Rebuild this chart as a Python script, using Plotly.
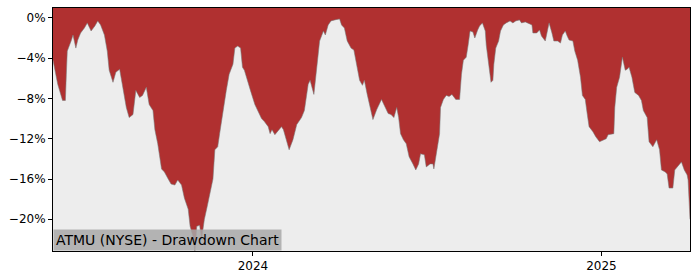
import plotly.graph_objects as go

dates = [
    "2023-06-05", "2023-06-10", "2023-06-15", "2023-06-18", "2023-06-19", "2023-06-20", "2023-06-24",
    "2023-06-26", "2023-06-29", "2023-07-01", "2023-07-04", "2023-07-08", "2023-07-11", "2023-07-15",
    "2023-07-19", "2023-07-22", "2023-07-25", "2023-07-29", "2023-08-01", "2023-08-03", "2023-08-07",
    "2023-08-10", "2023-08-14", "2023-08-17", "2023-08-21", "2023-08-24", "2023-08-28",
    "2023-08-31", "2023-09-04", "2023-09-07", "2023-09-11", "2023-09-14", "2023-09-18", "2023-09-20",
    "2023-09-23", "2023-09-27", "2023-09-30", "2023-10-04", "2023-10-07", "2023-10-11", "2023-10-14",
    "2023-10-18", "2023-10-21", "2023-10-25", "2023-10-27", "2023-10-30", "2023-11-01", "2023-11-03",
    "2023-11-06", "2023-11-08", "2023-11-11", "2023-11-14", "2023-11-16", "2023-11-20",
    "2023-11-22", "2023-11-25", "2023-11-27", "2023-11-30", "2023-12-04", "2023-12-07", "2023-12-11",
    "2023-12-13", "2023-12-16", "2023-12-19", "2023-12-21", "2023-12-23", "2023-12-27", "2023-12-30",
    "2024-01-03", "2024-01-06", "2024-01-10", "2024-01-13", "2024-01-17", "2024-01-19", "2024-01-21",
    "2024-01-24", "2024-01-27", "2024-01-31", "2024-02-02", "2024-02-05", "2024-02-08", "2024-02-12",
    "2024-02-16", "2024-02-21", "2024-02-24", "2024-02-28", "2024-03-01", "2024-03-05", "2024-03-08",
    "2024-03-11", "2024-03-15", "2024-03-17", "2024-03-20", "2024-03-23", "2024-03-27", "2024-04-01",
    "2024-04-03", "2024-04-06", "2024-04-09", "2024-04-13", "2024-04-16", "2024-04-19", "2024-04-22",
    "2024-04-25", "2024-04-27", "2024-04-30", "2024-05-03", "2024-05-06",
    "2024-05-10", "2024-05-13", "2024-05-15", "2024-05-18", "2024-05-22", "2024-05-25", "2024-05-28",
    "2024-05-31", "2024-06-02", "2024-06-04", "2024-06-07", "2024-06-10", "2024-06-13", "2024-06-17",
    "2024-06-20", "2024-06-23", "2024-06-25", "2024-06-29", "2024-07-01", "2024-07-05", "2024-07-08",
    "2024-07-09", "2024-07-12", "2024-07-15", "2024-07-16", "2024-07-19", "2024-07-22", "2024-07-25",
    "2024-07-28", "2024-07-29",
    "2024-08-01", "2024-08-05", "2024-08-07", "2024-08-09", "2024-08-12", "2024-08-14", "2024-08-16",
    "2024-08-19", "2024-08-21", "2024-08-24", "2024-08-26", "2024-08-29", "2024-09-01", "2024-09-02",
    "2024-09-05", "2024-09-07", "2024-09-09", "2024-09-10", "2024-09-12", "2024-09-15", "2024-09-17",
    "2024-09-20", "2024-09-23", "2024-09-27", "2024-09-30", "2024-10-03", "2024-10-07", "2024-10-09",
    "2024-10-13", "2024-10-16", "2024-10-20", "2024-10-21",
    "2024-10-25", "2024-10-28", "2024-10-30", "2024-11-03", "2024-11-05", "2024-11-07", "2024-11-10",
    "2024-11-12", "2024-11-16", "2024-11-19", "2024-11-21", "2024-11-24", "2024-11-26", "2024-11-28",
    "2024-12-02", "2024-12-04", "2024-12-07", "2024-12-10", "2024-12-12", "2024-12-15", "2024-12-17",
    "2024-12-19", "2024-12-23", "2024-12-26", "2024-12-30", "2025-01-02", "2025-01-06", "2025-01-08",
    "2025-01-12", "2025-01-14",
    "2025-01-15", "2025-01-17", "2025-01-20", "2025-01-22", "2025-01-23", "2025-01-26", "2025-01-28",
    "2025-01-30", "2025-02-02", "2025-02-05", "2025-02-09", "2025-02-12", "2025-02-14", "2025-02-18",
    "2025-02-20", "2025-02-24", "2025-02-26", "2025-02-28", "2025-03-03", "2025-03-05", "2025-03-09",
    "2025-03-11", "2025-03-13", "2025-03-17", "2025-03-19", "2025-03-23", "2025-03-26", "2025-03-29",
    "2025-04-01", "2025-04-02", "2025-04-04",
]

drawdown_pct = [
    -4.2, -6.6, -8.2, -8.2, -5.6, -3.3, -2.3,
    -1.7, -3.0, -2.2, -1.5, -1.0, -0.5, -1.3,
    -0.8, -0.3, -0.7, -1.7, -3.3, -5.2, -6.4,
    -5.4, -5.1, -6.9, -8.9, -9.9, -9.6,
    -7.2, -7.9, -7.7, -6.9, -8.6, -9.2, -11.1,
    -12.5, -15.0, -15.3, -16.0, -16.5, -16.6, -16.1,
    -16.6, -17.9, -19.0, -20.7, -21.7, -23.2, -20.7,
    -20.6, -22.0, -20.0, -18.7, -17.7, -16.0,
    -13.1, -12.8, -11.5, -9.5, -7.2, -5.6, -4.6,
    -3.0, -2.8, -3.0, -4.9, -5.2, -6.6, -7.4,
    -8.6, -9.2, -10.0, -10.3, -10.8, -11.5, -11.1,
    -11.6, -11.3, -10.8, -11.1, -12.1, -13.1, -12.1,
    -10.6, -9.9, -9.2, -6.6, -6.2, -7.6, -5.2,
    -2.3, -1.3, -1.7, -0.7, -0.3, -0.2, -0.1,
    -0.7, -1.0, -2.3, -3.0, -3.2, -4.9, -6.2,
    -6.7, -6.2, -7.6, -8.9, -10.1,
    -9.1, -8.4, -8.1, -8.7, -9.5, -9.6, -9.9,
    -8.9, -9.9, -11.5, -12.1, -12.5, -13.8, -14.5,
    -15.1, -14.5, -13.5, -13.6, -14.8, -14.5, -14.5,
    -15.0, -13.1, -11.5, -8.9, -8.1, -7.7, -7.8,
    -7.6, -7.7,
    -8.1, -8.1, -5.6, -4.2, -3.9, -2.7, -1.3,
    -1.4, -2.0, -1.2, -0.8, -0.5, -1.3, -2.7,
    -4.9, -6.4, -6.2, -4.6, -3.0, -2.3, -1.3,
    -0.7, -0.5, -0.3, -0.5, -0.3, -0.2, -0.5,
    -0.4, -0.5, -0.7, -1.5,
    -1.5, -1.2, -1.8, -2.3, -1.3, -0.5, -1.5,
    -2.3, -2.3, -2.5, -1.7, -1.3, -1.8, -2.2,
    -2.3, -3.3, -4.2, -5.9, -7.7, -8.1, -9.5,
    -10.8, -11.3, -11.8, -12.3, -12.2, -12.0, -11.6,
    -11.5, -11.5,
    -8.9, -6.9, -5.9, -4.6, -3.9, -5.2, -5.1,
    -4.9, -5.9, -7.4, -7.7, -8.2, -9.2, -9.9,
    -12.3, -12.8, -12.5, -12.1, -13.1, -15.1, -15.3,
    -15.5, -16.9, -16.9, -15.1, -14.6, -14.3, -15.1,
    -15.6, -16.1, -20.0,
]

y_tick_vals = [0, -4, -8, -12, -16, -20]
y_tick_text = ["0%", "\u22124%", "\u22128%", "\u221212%", "\u221216%", "\u221220%"]
x_tick_vals = ["2024-01-01", "2025-01-01"]
x_tick_text = ["2024", "2025"]
title_text = "ATMU (NYSE) - Drawdown Chart"

y_range = [-23.15, 0.98]
x_range = ["2023-06-05", "2025-04-04"]

fig = go.Figure()
# upper boundary of the red region: the top edge of the axes
fig.add_trace(go.Scatter(
    x=[dates[0], dates[-1]], y=[y_range[1] + 1, y_range[1] + 1], mode="lines",
    line=dict(width=0, color="rgba(0,0,0,0)"), hoverinfo="skip", showlegend=False,
))
fig.add_trace(go.Scatter(
    x=dates, y=drawdown_pct, mode="lines", fill="tonexty",
    fillcolor="#B03030", line=dict(color="rgba(120,120,120,0.7)", width=0.8),
    hoverinfo="skip", showlegend=False,
))

font_family = "DejaVu Sans"
fig.update_layout(
    width=700, height=280,
    margin=dict(l=53, r=10, t=7, b=28),
    paper_bgcolor="white", plot_bgcolor="#EDEDED",
    font=dict(family=font_family, size=12, color="black"),
    showlegend=False,
    xaxis=dict(
        range=x_range,
        tickvals=x_tick_vals, ticktext=x_tick_text,
        ticks="outside", ticklen=4, tickcolor="black", tickwidth=1,
        showgrid=False, zeroline=False,
        showline=True, linecolor="black", linewidth=1, mirror=True,
    ),
    yaxis=dict(
        range=y_range,
        tickvals=y_tick_vals, ticktext=y_tick_text,
        ticks="outside", ticklen=4, tickcolor="black", tickwidth=1,
        showgrid=False, zeroline=False,
        showline=True, linecolor="black", linewidth=1, mirror=True,
    ),
    annotations=[dict(
        text=title_text, xref="paper", yref="paper", x=0, y=0,
        xanchor="left", yanchor="bottom", showarrow=False,
        font=dict(family=font_family, size=14, color="black"),
        bgcolor="rgba(168,168,168,0.85)", borderpad=2,
    )],
)

fig.write_html("out.html")
